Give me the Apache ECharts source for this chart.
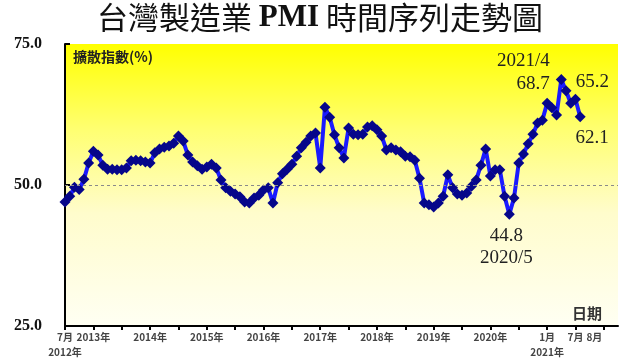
<!DOCTYPE html>
<html>
<head>
<meta charset="utf-8">
<script src="https://cdn.jsdelivr.net/npm/echarts@6/dist/echarts.min.js"></script>
<style>
html,body{margin:0;padding:0;background:#fff;}
#chart{width:640px;height:360px;}
</style>
</head>
<body>
<div id="chart"></div>
<script>
// Month categories from 2012/7, the axis runs a little past the last data month
const categoryCount = 118;
const categories = [];
for (let k = 0; k < categoryCount; k++) {
  const m = (6 + k) % 12 + 1;
  const y = 2012 + Math.floor((6 + k) / 12);
  categories.push(y + '/' + m);
}

// PMI values, 2012/7 .. 2021/8
const pmiValues = [
  47.0, 48.0, 49.6, 49.2, 51.0, 53.9,           // 2012/7-12
  56.0, 55.3, 53.5, 52.8, 52.8, 52.7, 52.7, 53.0, 54.3, 54.4, 54.3, 54.1, // 2013
  53.9, 55.7, 56.4, 56.7, 56.9, 57.4, 58.7, 57.8, 55.3, 54.1, 53.4, 52.8, // 2014
  53.2, 53.7, 53.0, 50.9, 49.5, 48.9, 48.4, 47.9, 47.0, 46.8, 47.7, 48.2, // 2015
  49.1, 49.5, 46.8, 50.4, 52.0, 52.8, 53.7, 55.1, 56.6, 57.6, 58.7, 59.2, // 2016
  53.0, 63.8, 62.0, 58.9, 56.6, 54.8, 60.1, 59.0, 58.9, 59.0, 60.3, 60.5, // 2017
  59.8, 58.7, 56.2, 56.6, 56.2, 55.9, 55.1, 55.0, 54.4, 51.2, 46.8, 46.5, // 2018
  46.1, 46.8, 48.0, 51.8, 49.5, 48.4, 48.2, 48.6, 49.8, 50.9, 53.5, 56.4, // 2019
  51.6, 52.7, 52.7, 48.0, 44.8, 47.7, 53.9, 55.5, 57.3, 59.0, 61.0, 61.5, // 2020
  64.5, 63.7, 62.4, 68.7, 66.7, 64.5, 65.2, 62.1                          // 2021/1-8
];

const yTicks = [25, 50, 75];
const refLevel = 50;

// first row of x tick labels
const tickLabelIndex = [0, 6, 18, 30, 42, 54, 66, 78, 90, 102, 108, 112];
const tickLabelText = ['7月', '2013年', '2014年', '2015年', '2016年', '2017年',
  '2018年', '2019年', '2020年', '1月', '7月', '8月'];
// second row (year under a month label)
const yearRowIndex = [0, 102];
const yearRowText = ['2012年', '2021年'];

const annoSerif = { fontFamily: 'Liberation Serif', fontSize: 19, color: '#222' };

const seriesData = pmiValues.map(function (v, i) {
  const cat = categories[i];
  if (cat === '2021/4') {
    return { value: v, label: Object.assign({ show: true, position: 'left', distance: 6,
      align: 'right', lineHeight: 23, offset: [0, -7],
      formatter: '2021/4\n' + v.toFixed(1) }, annoSerif) };
  }
  if (cat === '2021/7') {
    return { value: v, label: Object.assign({ show: true, position: 'top', distance: 2,
      offset: [17, 0], formatter: v.toFixed(1) }, annoSerif) };
  }
  if (cat === '2021/8') {
    return { value: v, label: Object.assign({ show: true, position: 'bottom', distance: 6,
      offset: [12, 0], formatter: v.toFixed(1) }, annoSerif) };
  }
  if (cat === '2020/5') {
    return { value: v, label: Object.assign({ show: true, position: 'bottom', distance: 5,
      offset: [-3, 0], lineHeight: 22, formatter: v.toFixed(1) + '\n' + cat }, annoSerif) };
  }
  return v;
});

const xLabelFont = { fontFamily: 'Noto Sans CJK TC', fontSize: 10, fontWeight: 'bold', color: '#444' };

const chart = echarts.init(document.getElementById('chart'));
chart.setOption({
  animation: false,
  backgroundColor: '#ffffff',
  title: {
    text: '{a|台灣製造業 }{b|PMI}{a| 時間序列走勢圖}',
    left: 'center',
    top: 0,
    padding: [2, 0, 0, 20],
    textStyle: {
      fontWeight: 'normal',
      rich: {
        a: { fontFamily: 'Noto Sans CJK TC', fontWeight: 'normal', fontSize: 31, color: '#111' },
        b: { fontFamily: 'Liberation Serif', fontWeight: 'bold', fontSize: 31, color: '#111' }
      }
    }
  },
  grid: {
    left: 65, right: 22, top: 44, bottom: 34,
    show: true, borderWidth: 0,
    backgroundColor: {
      type: 'linear', x: 0, y: 0, x2: 0, y2: 1,
      colorStops: [
        { offset: 0, color: '#ffff00' },
        { offset: 0.3, color: '#ffff70' },
        { offset: 0.6, color: '#fffccc' },
        { offset: 1, color: '#fffff3' }
      ]
    }
  },
  xAxis: [{
    type: 'category',
    data: categories,
    boundaryGap: false,
    name: '日期',
    nameLocation: 'end',
    nameGap: -46,
    nameTextStyle: { fontFamily: 'Noto Sans CJK TC', fontWeight: 'bold', fontSize: 15,
      color: '#333', align: 'left', verticalAlign: 'bottom', padding: [0, 0, 5, 0] },
    axisLine: { lineStyle: { color: '#000', width: 2 } },
    axisTick: { show: true, length: 4, lineStyle: { color: '#000', width: 2 },
      interval: function (index) { return index % 6 === 0; } },
    axisLabel: Object.assign({
      showMinLabel: true,
      interval: function (index) { return tickLabelIndex.indexOf(index) >= 0; },
      formatter: function (value, index) {
        const k = tickLabelIndex.indexOf(index);
        return k >= 0 ? tickLabelText[k] : '';
      },
      margin: 6
    }, xLabelFont),
    splitLine: { show: false }
  }, {
    type: 'category',
    data: categories,
    boundaryGap: false,
    position: 'bottom',
    offset: 0,
    axisLine: { show: false },
    axisTick: { show: false },
    axisLabel: Object.assign({
      showMinLabel: true,
      interval: function (index) { return yearRowIndex.indexOf(index) >= 0; },
      formatter: function (value, index) {
        const k = yearRowIndex.indexOf(index);
        return k >= 0 ? yearRowText[k] : '';
      },
      margin: 21
    }, xLabelFont),
    splitLine: { show: false }
  }],
  yAxis: {
    type: 'value',
    min: yTicks[0], max: yTicks[yTicks.length - 1], interval: 25,
    name: '擴散指數(%)',
    nameLocation: 'end',
    nameGap: -13,
    nameTextStyle: { fontFamily: 'Noto Sans CJK TC', fontWeight: 'bold', fontSize: 14,
      color: '#222', align: 'left', verticalAlign: 'middle', padding: [0, 0, 0, 8] },
    axisLine: { show: true, lineStyle: { color: '#000', width: 2 } },
    axisTick: { show: true, inside: true, length: 5, lineStyle: { color: '#000', width: 2 } },
    axisLabel: {
      margin: 23,
      formatter: function (v) { return v.toFixed(1); },
      fontFamily: 'Liberation Serif', fontWeight: 'bold', fontSize: 16, color: '#111'
    },
    splitLine: { show: false }
  },
  series: [{
    type: 'line',
    xAxisIndex: 0,
    data: seriesData,
    symbol: 'diamond',
    symbolSize: 11,
    showAllSymbol: true,
    lineStyle: { color: '#1a1aff', width: 4 },
    itemStyle: { color: '#06068a' },
    z: 3,
    markLine: {
      silent: true,
      symbol: 'none',
      label: { show: false },
      lineStyle: { color: '#8a8a8a', type: [3, 3], width: 1 },
      data: [{ yAxis: refLevel }]
    }
  }]
});
</script>
</body>
</html>
